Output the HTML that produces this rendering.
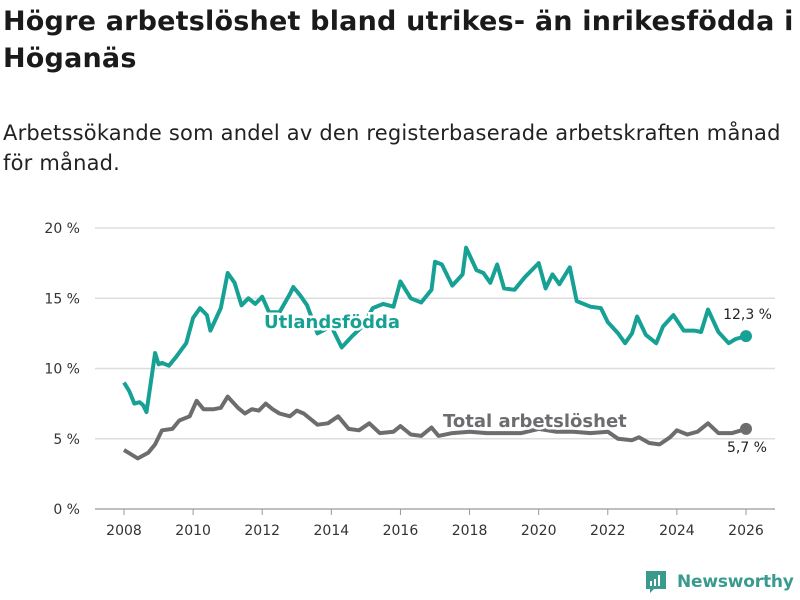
<!DOCTYPE html>
<html><head><meta charset="utf-8">
<style>
body{margin:0;width:800px;height:600px;background:#fff;font-family:"DejaVu Sans","Liberation Sans",sans-serif;overflow:hidden;position:relative}
h1{position:absolute;left:3px;top:3px;margin:0;font-size:27px;line-height:37px;font-weight:bold;color:#1a1a1a;white-space:nowrap;letter-spacing:0.2px}
.sub{position:absolute;left:3px;top:118px;font-size:21px;line-height:30px;color:#222;white-space:nowrap;letter-spacing:0.2px}
svg{position:absolute;left:0;top:0}
.logo{position:absolute;left:644px;top:569px;font-size:17px;font-weight:bold;color:#3a9a8e;display:flex;align-items:center;white-space:nowrap;letter-spacing:-0.2px}
</style></head><body>
<h1>Högre arbetslöshet bland utrikes- än inrikesfödda i<br>Höganäs</h1>
<div class="sub">Arbetssökande som andel av den registerbaserade arbetskraften månad<br>för månad.</div>
<svg id="chart" width="800" height="600"></svg>
<div class="logo"><svg width="24" height="26" style="position:static"><path d="M2 2h20v18h-12l-4 4v-4h-4z" fill="#3a9a8e"/><rect x="6" y="12" width="2" height="5" fill="#fff"/><rect x="10" y="10" width="2" height="7" fill="#fff"/><rect x="14" y="6" width="2" height="11" fill="#fff"/></svg><span style="margin-left:9px">Newsworthy</span></div>
<script>
const yTicks=[0,5,10,15,20];
const xTicks=[2008,2010,2012,2014,2016,2018,2020,2022,2024,2026];
const utlT=[2008.0,2008.15,2008.3,2008.45,2008.55,2008.65,2008.9,2009.0,2009.1,2009.3,2009.5,2009.8,2010.0,2010.2,2010.4,2010.5,2010.8,2011.0,2011.2,2011.4,2011.6,2011.8,2012.0,2012.2,2012.5,2012.8,2012.9,2013.1,2013.3,2013.6,2014.0,2014.3,2014.6,2014.9,2015.2,2015.5,2015.8,2016.0,2016.3,2016.6,2016.9,2017.0,2017.2,2017.5,2017.8,2017.9,2018.2,2018.4,2018.6,2018.8,2019.0,2019.3,2019.6,2019.8,2020.0,2020.2,2020.4,2020.6,2020.9,2021.1,2021.5,2021.8,2022.0,2022.3,2022.5,2022.7,2022.85,2023.1,2023.4,2023.6,2023.9,2024.2,2024.5,2024.7,2024.9,2025.2,2025.5,2025.7,2026.0];
const utlV=[9.0,8.4,7.5,7.6,7.4,6.9,11.1,10.3,10.4,10.2,10.8,11.8,13.6,14.3,13.8,12.7,14.3,16.8,16.1,14.5,15.0,14.6,15.1,14.0,14.0,15.3,15.8,15.2,14.5,12.5,13.0,11.5,12.3,13.0,14.3,14.6,14.4,16.2,15.0,14.7,15.6,17.6,17.4,15.9,16.7,18.6,17.0,16.8,16.1,17.4,15.7,15.6,16.5,17.0,17.5,15.7,16.7,16.0,17.2,14.8,14.4,14.3,13.3,12.5,11.8,12.5,13.7,12.4,11.8,13.0,13.8,12.7,12.7,12.6,14.2,12.6,11.8,12.1,12.3];
const totT=[2008.0,2008.4,2008.7,2008.9,2009.1,2009.4,2009.6,2009.9,2010.1,2010.3,2010.6,2010.8,2011.0,2011.3,2011.5,2011.7,2011.9,2012.1,2012.3,2012.5,2012.8,2013.0,2013.2,2013.4,2013.6,2013.9,2014.2,2014.5,2014.8,2015.1,2015.4,2015.8,2016.0,2016.3,2016.6,2016.9,2017.1,2017.5,2018.0,2018.5,2019.0,2019.5,2020.0,2020.5,2021.0,2021.5,2022.0,2022.3,2022.7,2022.9,2023.2,2023.5,2023.8,2024.0,2024.3,2024.6,2024.9,2025.2,2025.6,2026.0];
const totV=[4.2,3.6,4.0,4.6,5.6,5.7,6.3,6.6,7.7,7.1,7.1,7.2,8.0,7.2,6.8,7.1,7.0,7.5,7.1,6.8,6.6,7.0,6.8,6.4,6.0,6.1,6.6,5.7,5.6,6.1,5.4,5.5,5.9,5.3,5.2,5.8,5.2,5.4,5.5,5.4,5.4,5.4,5.7,5.5,5.5,5.4,5.5,5.0,4.9,5.1,4.7,4.6,5.1,5.6,5.3,5.5,6.1,5.4,5.4,5.7];
const NS='http://www.w3.org/2000/svg';
const svg=document.getElementById('chart');
const X=t=>124+(t-2008)*(746-124)/18;
const Y=v=>509-v*(509-228)/20;
function mk(tag,attrs,text){const e=document.createElementNS(NS,tag);for(const k in attrs)e.setAttribute(k,attrs[k]);if(text!==undefined)e.textContent=text;svg.appendChild(e);return e;}
yTicks.forEach(v=>{
  const l=mk('line',{x1:95,x2:775,y1:Y(v),y2:Y(v),stroke:v===0?'#999':'#ddd','stroke-width':v===0?1.2:1.5});
  
  
  const t=mk('text',{x:80,y:Y(v)+5,'text-anchor':'end','font-size':14,fill:'#333'},v+' %');
  
  
});
xTicks.forEach(y=>{
  const l=mk('line',{x1:X(y),x2:X(y),y1:509,y2:515,stroke:'#999'});
  
  
  const t=mk('text',{x:X(y),y:535,'text-anchor':'middle','font-size':14,fill:'#333'},y);
  
  
});
function line(T,V,col,name){
  const d=T.map((t,i)=>(i?'L':'M')+X(t).toFixed(1)+' '+Y(V[i]).toFixed(1)).join('');
  const p=mk('path',{d:d,fill:'none',stroke:col,'stroke-width':4,'stroke-linejoin':'round'});
  
  
  const n=T.length-1;
  const c=mk('circle',{cx:X(T[n]),cy:Y(V[n]),r:6,fill:col});
  
  
}
line(totT,totV,'#6d6d6f','total');
line(utlT,utlV,'#17a194','utlandsfodda');
const a=mk('text',{x:264,y:328,'font-size':18,'font-weight':'bold',fill:'#17a194',stroke:'#fff','stroke-width':5,'paint-order':'stroke'},'Utlandsfödda');


const b=mk('text',{x:443,y:427,'font-size':18,'font-weight':'bold',fill:'#6d6d6f',stroke:'#fff','stroke-width':5,'paint-order':'stroke'},'Total arbetslöshet');


const v1=mk('text',{x:772,y:319,'text-anchor':'end','font-size':14,fill:'#222'},'12,3 %');


const v2=mk('text',{x:767,y:452,'text-anchor':'end','font-size':14,fill:'#222'},'5,7 %');


</script>
</body></html>
